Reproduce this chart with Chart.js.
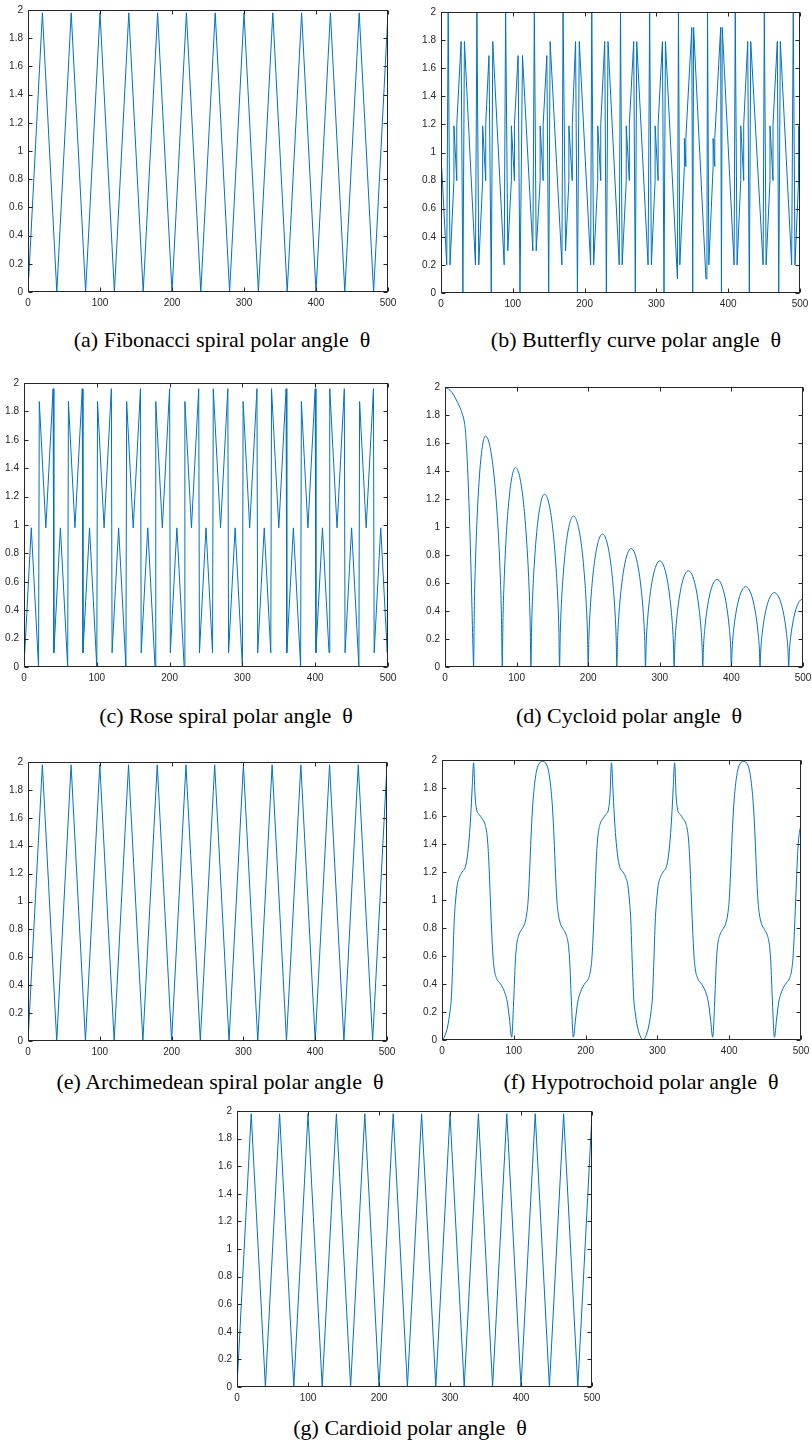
<!DOCTYPE html>
<html><head><meta charset="utf-8">
<script src="https://cdn.jsdelivr.net/npm/chart.js@4.4.1/dist/chart.umd.min.js"></script>
<style>
html,body{margin:0;padding:0;background:#fff}
body{position:relative;width:812px;height:1444px;overflow:hidden}
canvas{position:absolute;display:block}
.cap{position:absolute;width:440px;text-align:center;font-family:"Liberation Serif","Times New Roman",serif;font-size:22px;line-height:normal;color:#000;white-space:pre}
</style></head><body>
<script>
// ---------- tick definitions ----------
const xTicks = [0,100,200,300,400,500];
const xTickLabels = ['0','100','200','300','400','500'];
const yTicks = [0,0.2,0.4,0.6,0.8,1,1.2,1.4,1.6,1.8,2];
const yTickLabels = ['0','0.2','0.4','0.6','0.8','1','1.2','1.4','1.6','1.8','2'];

// ---------- (a) Fibonacci spiral ----------
const fibX = [1,20,40,60,80,100,120,140,160,180,200,220,240,260,280,300,320,340,360,380,400,420,440,460,480,500];
const fibY = [0.1,1.98,0,1.98,0,1.98,0,1.98,0,1.98,0,1.98,0,1.98,0,1.98,0,1.98,0,1.98,0,1.98,0,1.98,0,1.98];

// ---------- (b) Butterfly curve ----------
const bflyX = [1,8,10,12.6,18,18,22,22,28,30.5,32.6,
  48,50,52.6,58,58,62.3,62.3,66.8,70,72.1,
  88,90,93,98,98,102.3,102.3,107.4,110,113.5,
  127.9,130,132.6,138.1,138.1,142.3,142.3,147.4,150,152,
  168.4,170,173.5,178.1,178.1,182.8,182.8,187.4,190,192.6,
  208.4,210,212.6,218.3,218.3,222.5,222.5,228,230.3,232.6,
  248.2,250,252.3,258,258,262.3,262.3,268.4,270.6,272.6,
  288.4,290.6,293,298.2,298.2,302.4,302.4,308.4,310.6,312.6,
  329.3,330.7,332.6,339,339,341,341,349.3,350.6,351.8,
  369,370.3,371.2,373,379,379,381.3,381.3,389.5,390.6,391.7,
  408.2,409.8,412.4,417.5,417.5,421.6,421.6,427.2,429.4,431.4,
  448.6,450.3,452.8,458.2,458.2,462.4,462.4,468.4,470.4,472.6,
  488.4,490.6,493,498,498,500];
const bflyY = [0.89,0.2,2,0.2,0.8,1.19,0.8,1.2,1.79,0,1.79,
  0.2,2,0.2,0.8,1.19,0.8,1.2,1.69,0,1.79,
  0.2,2,0.3,0.8,1.19,0.8,1.2,1.69,0,1.69,
  0.3,2,0.3,0.8,1.19,0.8,1.2,1.69,0,1.79,
  0.2,2,0.3,0.8,1.19,0.8,1.2,1.79,0,1.79,
  0.2,2,0.2,0.8,1.19,0.8,1.2,1.79,0,1.79,
  0.2,2,0.2,0.8,1.19,0.8,1.2,1.79,0,1.79,
  0.2,2,0.2,0.8,1.19,0.8,1.2,1.79,0,1.79,
  0.1,2,0.2,0.9,1.1,0.9,1.1,1.89,0,1.89,
  0.1,0.1,2,0.2,0.9,1.1,0.9,1.1,1.89,0,1.89,
  0.2,2,0.2,0.8,1.19,0.8,1.2,1.79,0,1.79,
  0.2,2,0.2,0.8,1.19,0.8,1.2,1.79,0,1.79,
  0.2,2,0.2,0.8,1.19,1.0];

// ---------- (c) Rose spiral ----------
const roseX = [1,10,20,21,30,40,
  41,50,60,61,70,80,
  81,90,100,101,110,120,
  121,130,140,141,150,160,
  161,170,180,181,190,200,
  201,210,220,221,230,240,
  241,250,259,260,270,280,
  281,290,300,301,310,320,
  321,330,339,340,350,360,
  361,370,380,381,390,400,
  401,410,419,420,430,440,
  441,450,460,461,470,480,
  481,490,499,500];
const roseY = [0.1,0.98,0,1.87,0.98,1.96,
  0.1,0.98,0,1.87,0.98,1.96,
  0.1,0.98,0,1.87,0.98,1.96,
  0.1,0.98,0,1.87,0.98,1.96,
  0.1,0.98,0,1.87,0.98,1.96,
  0.1,0.98,0,1.87,0.98,1.96,
  0.1,0.98,0.1,1.96,0.98,1.96,
  0.1,0.98,0,1.87,0.98,1.96,
  0.1,0.98,0.1,1.96,0.98,1.96,
  0.1,0.98,0,1.87,0.98,1.96,
  0.1,0.98,0.1,1.96,0.98,1.96,
  0.1,0.98,0,1.87,0.98,1.96,
  0.1,0.98,0.1,1.96];

// ---------- (d) Cycloid ----------
const cycX = [1,5,10,15,20,24,27,29,31,33,35,37,39,40,
  40.8,42.5,45,48.3,52.4,56.5,62.4,68.25,72.95,76.5,78.8,80,
  80.9,82.8,85.5,89.25,93.9,98.5,103.9,109.25,113.55,116.8,118.9,120,
  120.95,122.85,125.7,129.5,134.25,139,144.25,149.5,153.7,156.85,158.95,160,
  161,162.9,165.85,169.75,174.6,179.5,184.6,189.75,193.85,196.9,198.97,200,
  201,203,206,210,215,220,225,230,234,237,239,240,
  241,243,246,250,255,260,265,270,274,277,279,280,
  281,283,286,290,295,300,305,310,314,317,319,320,
  321,323,326,330,335,340,345,350,354,357,359,360,
  361,363,366,370,375,380,385,390,394,397,399,400,
  401,403,406,410,415,420,425,430,434,437,439,440,
  441,443,446,450,455,460,465,470,474,477,479,480,
  481,483,486,490,495,500];
const cycY = [1.995,1.985,1.96,1.915,1.865,1.81,1.75,1.66,1.48,1.24,0.93,0.56,0.15,0,
  0.373,0.743,1.084,1.379,1.584,1.65,1.584,1.379,1.084,0.743,0.373,0,
  0.322,0.641,0.936,1.191,1.368,1.425,1.368,1.191,0.936,0.641,0.322,0,
  0.279,0.556,0.811,1.032,1.186,1.235,1.186,1.032,0.811,0.556,0.279,0,
  0.244,0.485,0.708,0.901,1.035,1.078,1.035,0.901,0.708,0.485,0.244,0,
  0.215,0.428,0.624,0.794,0.912,0.95,0.912,0.794,0.624,0.428,0.215,0,
  0.191,0.381,0.556,0.707,0.812,0.846,0.812,0.707,0.556,0.381,0.191,0,
  0.171,0.341,0.498,0.634,0.728,0.758,0.728,0.634,0.498,0.341,0.171,0,
  0.155,0.309,0.451,0.574,0.66,0.687,0.66,0.574,0.451,0.309,0.155,0,
  0.141,0.282,0.411,0.523,0.601,0.626,0.601,0.523,0.411,0.282,0.141,0,
  0.129,0.258,0.376,0.479,0.55,0.573,0.55,0.479,0.376,0.258,0.129,0,
  0.12,0.239,0.349,0.444,0.51,0.531,0.51,0.444,0.349,0.239,0.12,0,
  0.111,0.221,0.322,0.41,0.47,0.487];

// ---------- (e) Archimedean spiral ----------
const archX = [0,20,40,60,80,100,120,140,160,180,200,220,240,260,280,300,320,340,360,380,400,420,440,460,480,500];
const archY = [0,1.98,0,1.98,0,1.98,0,1.98,0,1.98,0,1.98,0,1.98,0,1.98,0,1.98,0,1.98,0,1.98,0,1.98,0,1.98];

// ---------- (f) Hypotrochoid ----------
const hypoX = [0,4,8,11,13,15,17,19,21,24,28,32,35,38,40,42,44,46,48,52,56,60,63,65,67,69,71,73,76,80,84,88,91,94,97,100,102,104,107,111,115,118,120,122,124,126,129,132,136,140,
  144,148,151,154,156,158,160,162,165,169,173,176,178,180,183,186,189,192,196,200,204,207,209,211,213,215,217,220,224,228,232,234,236,238,240,242,245,248,252,256,259,261,263,265,267,269,272,276,280,
  284,288,291,293,295,297,299,301,304,308,312,315,318,320,322,324,326,328,332,336,340,343,345,347,349,351,353,356,360,364,368,371,374,377,380,382,384,387,391,395,398,400,402,404,406,409,412,416,420,
  424,428,431,434,436,438,440,442,445,449,453,456,458,460,463,466,469,472,476,480,484,487,489,491,493,495,497,500];
const hypoY = [0,0.03,0.1,0.2,0.3,0.55,0.85,1.0,1.1,1.16,1.2,1.23,1.3,1.45,1.6,1.8,1.98,1.75,1.65,1.61,1.58,1.54,1.45,1.3,1.05,0.8,0.6,0.5,0.44,0.41,0.38,0.33,0.27,0.15,0.02,0.3,0.55,0.68,0.75,0.79,0.83,0.9,1.0,1.2,1.45,1.65,1.83,1.93,1.98,1.99,
  1.98,1.93,1.83,1.65,1.45,1.2,1.0,0.9,0.83,0.79,0.75,0.68,0.55,0.3,0.02,0.15,0.27,0.33,0.38,0.41,0.44,0.5,0.6,0.8,1.05,1.3,1.45,1.54,1.58,1.61,1.65,1.75,1.98,1.8,1.6,1.45,1.3,1.23,1.2,1.16,1.1,1.0,0.85,0.55,0.3,0.2,0.1,0.03,0,
  0.03,0.1,0.2,0.3,0.55,0.85,1.0,1.1,1.16,1.2,1.23,1.3,1.45,1.6,1.8,1.98,1.75,1.65,1.61,1.58,1.54,1.45,1.3,1.05,0.8,0.6,0.5,0.44,0.41,0.38,0.33,0.27,0.15,0.02,0.3,0.55,0.68,0.75,0.79,0.83,0.9,1.0,1.2,1.45,1.65,1.83,1.93,1.98,1.99,
  1.98,1.93,1.83,1.65,1.45,1.2,1.0,0.9,0.83,0.79,0.75,0.68,0.55,0.3,0.02,0.15,0.27,0.33,0.38,0.41,0.44,0.5,0.6,0.8,1.05,1.3,1.45,1.54];

// ---------- (g) Cardioid ----------
const cardX = [1,20,40,60,80,100,120,140,160,180,200,220,240,260,280,300,320,340,360,380,400,420,440,460,480,500];
const cardY = [0.1,1.98,0,1.98,0,1.98,0,1.98,0,1.98,0,1.98,0,1.98,0,1.98,0,1.98,0,1.98,0,1.98,0,1.98,0,1.98];

// ---------- layout (positions only) ----------
const panels = [
  {xs:fibX,  ys:fibY,  smooth:false, L:28,  T:7,    R:387, B:291,  cap:'(a) Fibonacci spiral polar angle  θ',   cx:222, base:347},
  {xs:bflyX, ys:bflyY, smooth:false, L:441, T:9,    R:799, B:292,  cap:'(b) Butterfly curve polar angle  θ',    cx:636, base:347},
  {xs:roseX, ys:roseY, smooth:false, L:24,  T:380,  R:387, B:666,  cap:'(c) Rose spiral polar angle  θ',        cx:226, base:723},
  {xs:cycX,  ys:cycY,  smooth:true,  L:445, T:384,  R:802, B:666,  cap:'(d) Cycloid polar angle  θ',            cx:629, base:723},
  {xs:archX, ys:archY, smooth:false, L:28,  T:759,  R:386, B:1040, cap:'(e) Archimedean spiral polar angle  θ', cx:220, base:1089},
  {xs:hypoX, ys:hypoY, smooth:true,  L:442, T:757,  R:800, B:1039, cap:'(f) Hypotrochoid polar angle  θ',       cx:641, base:1089},
  {xs:cardX, ys:cardY, smooth:false, L:237, T:1108, R:591, B:1386, cap:'(g) Cardioid polar angle  θ',           cx:410, base:1435}
];
const padL = 36, padT = 8, padR = 14, padB = 24, TL = 4;
const AX = '#262626';

const boxPlugin = {
  id: 'matlabBox',
  afterDraw(chart) {
    const {ctx, chartArea: a, scales: {x, y}} = chart;
    ctx.save();
    ctx.strokeStyle = AX; ctx.lineWidth = 1;
    ctx.beginPath();
    const l = a.left + 0.5, r = a.right - 0.5, t = a.top + 0.5, b = a.bottom - 0.5;
    xTicks.forEach(v => {
      const px = Math.round(x.getPixelForValue(v)) + 0.5;
      ctx.moveTo(px, b); ctx.lineTo(px, b - TL);
      ctx.moveTo(px, t); ctx.lineTo(px, t + TL);
    });
    yTicks.forEach(v => {
      const py = Math.round(y.getPixelForValue(v)) + 0.5;
      ctx.moveTo(l, py); ctx.lineTo(l + TL, py);
      ctx.moveTo(r, py); ctx.lineTo(r - TL, py);
    });
    ctx.stroke();
    ctx.strokeRect(l, t, r - l, b - t);
    ctx.restore();
  }
};

Chart.defaults.font.family = "'Liberation Sans', Arial, Helvetica, sans-serif";
Chart.defaults.font.size = 10;
Chart.defaults.color = AX;

panels.forEach(p => {
  const W = (p.R - p.L + 1) + padL + padR;
  const H = (p.B - p.T + 1) + padT + padB;
  const cv = document.createElement('canvas');
  cv.width = W; cv.height = H;
  cv.style.left = (p.L - padL) + 'px'; cv.style.top = (p.T - padT) + 'px';
  cv.style.width = W + 'px'; cv.style.height = H + 'px';
  document.body.appendChild(cv);
  new Chart(cv, {
    type: 'line',
    data: {datasets: [{
      data: p.xs.map((xv, i) => ({x: xv, y: p.ys[i]})),
      borderColor: '#0072BD', borderWidth: 1, pointRadius: 0, fill: false,
      tension: 0, cubicInterpolationMode: p.smooth ? 'monotone' : 'default'
    }]},
    options: {
      responsive: false, animation: false, devicePixelRatio: 1, events: [],
      layout: {padding: {left: 0, top: padT, right: padR, bottom: 0}},
      plugins: {legend: {display: false}, tooltip: {enabled: false}},
      scales: {
        x: {type: 'linear', min: 0, max: 500,
          grid: {display: false, drawTicks: false, tickLength: 0}, border: {display: false},
          afterBuildTicks: s => { s.ticks = xTicks.map(v => ({value: v})); },
          afterFit: s => { s.height = padB; },
          ticks: {autoSkip: false, maxRotation: 0, padding: 5, callback: (v, i) => xTickLabels[i]}},
        y: {type: 'linear', min: 0, max: 2,
          grid: {display: false, drawTicks: false, tickLength: 0}, border: {display: false},
          afterBuildTicks: s => { s.ticks = yTicks.map(v => ({value: v})); },
          afterFit: s => { s.width = padL; },
          ticks: {autoSkip: false, padding: 5, callback: (v, i) => yTickLabels[i]}}
      }
    },
    plugins: [boxPlugin]
  });
  const d = document.createElement('div');
  d.className = 'cap';
  d.textContent = p.cap;
  d.style.left = (p.cx - 220) + 'px';
  d.style.top = (p.base - 19.6) + 'px';
  document.body.appendChild(d);
});
</script>
</body></html>
